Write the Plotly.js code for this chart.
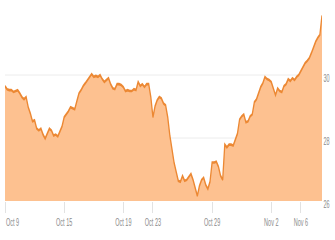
<!DOCTYPE html>
<html>
<head>
<meta charset="utf-8">
<script src="https://cdn.plot.ly/plotly-3.0.1.min.js"></script>
<style>
html, body { margin:0; padding:0; overflow:hidden; background:#fff; width:335px; height:240px; }
#chart { width:670px; height:240px; transform: scaleX(0.5); transform-origin: 0 0; }
</style>
</head>
<body>
<div id="chart"></div>
<script>
// Hourly closing prices (7 samples per trading day), starting Oct 9
var samplesPerDay = 7;
var prices = [
  29.65, 29.55, 29.52, 29.52, 29.46, 29.49, 29.52, 29.42, 29.30, 29.23,
  29.30, 28.98, 28.78, 28.53, 28.56, 28.30, 28.24, 28.30, 28.11, 27.98,
  28.14, 28.30, 28.24, 28.08, 28.11, 28.05, 28.21, 28.37, 28.66, 28.75,
  28.85, 28.98, 28.94, 28.91, 29.17, 29.42, 29.52, 29.65, 29.74, 29.84,
  29.94, 30.03, 29.94, 29.97, 29.94, 30.00, 29.87, 29.78, 29.84, 29.90,
  29.71, 29.58, 29.55, 29.71, 29.71, 29.68, 29.62, 29.49, 29.52, 29.49,
  29.49, 29.55, 29.52, 29.78, 29.65, 29.71, 29.62, 29.71, 29.71, 29.30,
  28.66, 29.01, 29.20, 29.30, 29.26, 29.10, 29.04, 28.66, 28.08, 27.63,
  27.22, 26.93, 26.64, 26.61, 26.80, 26.64, 26.67, 26.77, 26.86, 26.67,
  26.42, 26.16, 26.48, 26.67, 26.74, 26.51, 26.38, 26.61, 27.22, 27.22,
  27.25, 27.09, 26.80, 26.67, 27.79, 27.70, 27.79, 27.79, 27.76, 27.95,
  28.14, 28.59, 28.69, 28.75, 28.50, 28.53, 28.69, 28.75, 29.14, 29.23,
  29.42, 29.62, 29.74, 29.94, 29.87, 29.84, 29.78, 29.58, 29.36, 29.58,
  29.49, 29.46, 29.65, 29.71, 29.87, 29.81, 29.90, 29.84, 29.94, 30.00,
  30.13, 30.26, 30.38, 30.45, 30.54, 30.70, 30.90, 31.06, 31.18, 31.28,
  31.89
];
// Tick positions in trading days from Oct 9
var tickDays = [0, 4, 8, 10, 14, 18, 20];
var tickLabels = ['Oct 9', 'Oct 15', 'Oct 19', 'Oct 23', 'Oct 29', 'Nov 2', 'Nov 6'];
var yTickVals = [26, 28, 30, 32];
var yTickLabels = ['26', '28', '30', ''];

var xs = prices.map(function (p, i) { return i / samplesPerDay; });

var trace = {
  x: xs, y: prices, type: 'scatter', mode: 'lines',
  fill: 'tozeroy', fillcolor: '#fdc190',
  line: { color: '#ec8833', width: 2.6 },
  hoverinfo: 'skip'
};

var font = { family: 'Liberation Sans, Arial, sans-serif', size: 11, color: '#8a8a8a' };

// first label sits left-aligned at its tick so it stays inside the chart
var shownLabels = tickLabels.map(function (t, i) { return i === 0 ? '' : t; });

var layout = {
  width: 670, height: 240,
  margin: { l: 10, r: 26, t: 12, b: 39, pad: 0 },
  paper_bgcolor: '#fff', plot_bgcolor: '#fff',
  showlegend: false,
  font: font,
  xaxis: {
    range: [0, (prices.length - 1) / samplesPerDay],
    tickmode: 'array', tickvals: tickDays, ticktext: shownLabels,
    ticks: 'outside', ticklen: 11, tickwidth: 2, tickcolor: '#e2e2e2',
    showgrid: false, zeroline: false, showline: false,
    tickfont: font
  },
  yaxis: {
    side: 'right', range: [26, 32],
    tickmode: 'array', tickvals: yTickVals, ticktext: yTickLabels,
    showgrid: true, gridcolor: '#e6e6e6', gridwidth: 1,
    zeroline: false, showline: false, ticks: '',
    ticklabelstandoff: 2, ticklabelshift: 3,
    tickfont: font
  },
  annotations: [{
    x: tickDays[0], xref: 'x', y: 0, yref: 'paper',
    xanchor: 'left', yanchor: 'top', yshift: -13,
    text: tickLabels[0], showarrow: false, font: font
  }]
};

Plotly.newPlot('chart', [trace], layout, { displayModeBar: false, staticPlot: true });
</script>
</body>
</html>
